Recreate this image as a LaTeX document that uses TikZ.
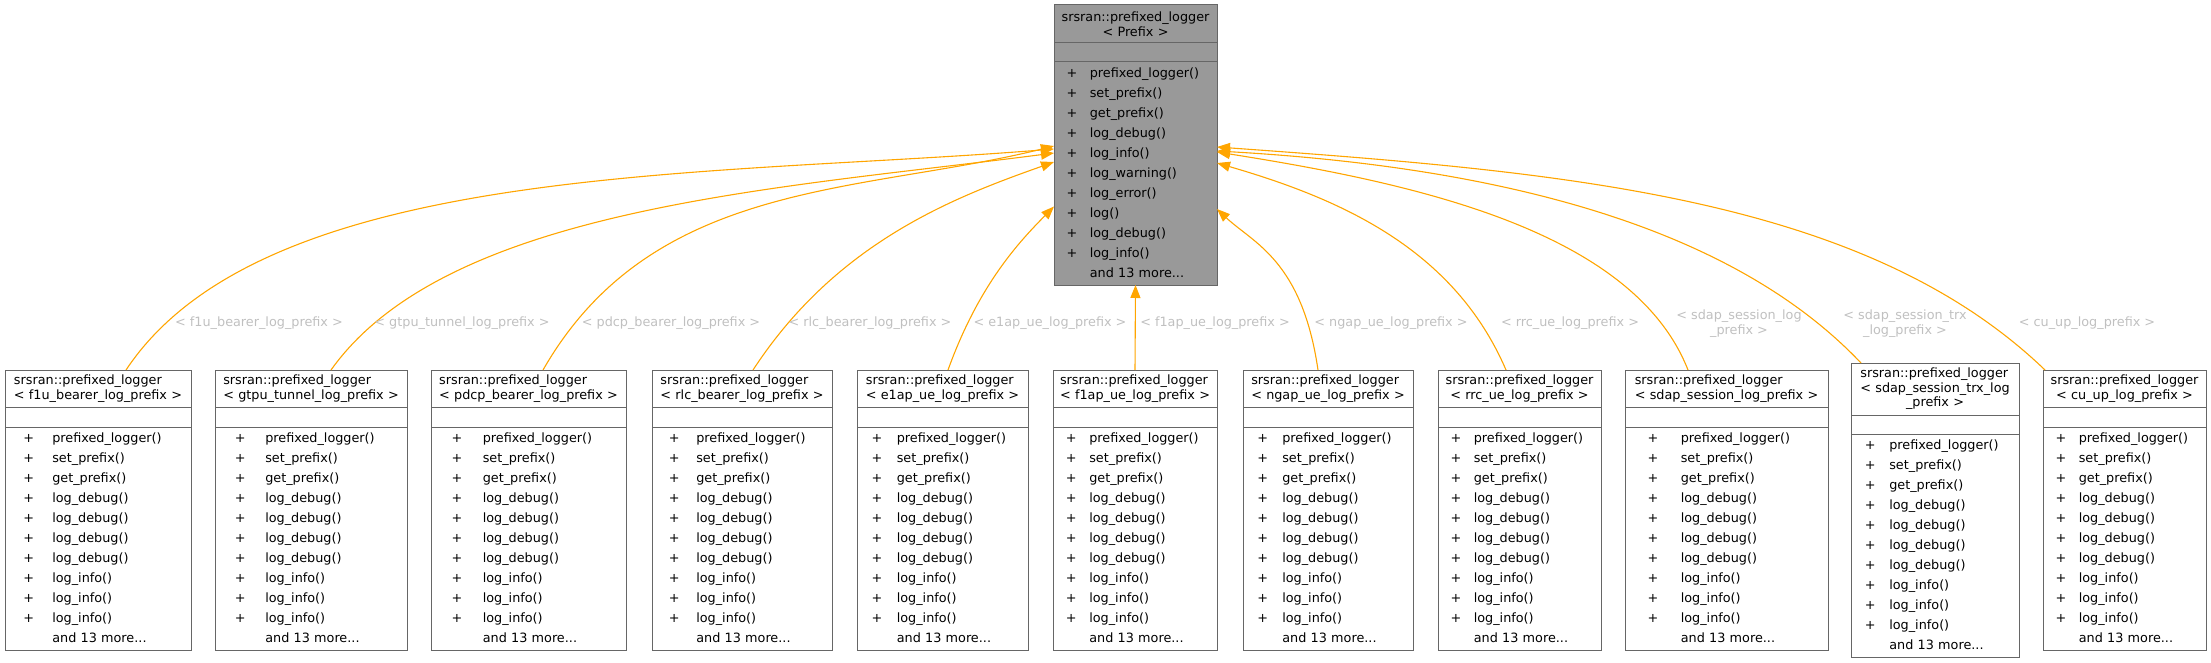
\documentclass[tikz,border=0pt]{standalone}
\usepackage{fontspec}
\usepackage{array}
\setmainfont{DejaVu Sans}
\usetikzlibrary{arrows.meta, positioning}

\definecolor{boxborder}{HTML}{666666}
\definecolor{basegray}{HTML}{999999}
\definecolor{labelgray}{HTML}{C0C0C0}
\definecolor{edgeorange}{HTML}{FFA500}

% header with the first line flush left under the longer second line
\newlength{\headwd}
\newcommand{\leftpair}[2]{\settowidth{\headwd}{#2}\makebox[\headwd][l]{#1}\\#2}

% member compartments
\newcommand{\memberrows}[2]{%
  \pgfmathsetlengthmacro{\pluscol}{35.8pt+(#1-163pt)/2}%
  \begin{tabular}{@{}>{\centering\arraybackslash}p{\pluscol}@{}l@{}}#2\end{tabular}}
\newcommand{\basemembers}{%
  + & prefixed\_logger()\\
  + & set\_prefix()\\
  + & get\_prefix()\\
  + & log\_debug()\\
  + & log\_info()\\
  + & log\_warning()\\
  + & log\_error()\\
  + & log()\\
  + & log\_debug()\\
  + & log\_info()\\
    & and 13 more...}
\newcommand{\childmembers}{%
  + & prefixed\_logger()\\
  + & set\_prefix()\\
  + & get\_prefix()\\
  + & log\_debug()\\
  + & log\_debug()\\
  + & log\_debug()\\
  + & log\_debug()\\
  + & log\_info()\\
  + & log\_info()\\
  + & log\_info()\\
    & and 13 more...}

\begin{document}
\begin{tikzpicture}[x=1pt, y=-1pt,
    cls/.style={rectangle, draw=boxborder, line width=1pt, fill=white, inner sep=0pt, outer sep=0pt, text width=#1},
    head/.style={cls=#1, minimum height=37pt, align=center, font=\fontsize{12.8}{14.5}\selectfont},
    blank/.style={cls=#1, minimum height=20pt},
    body/.style={cls=#1, minimum height=223pt, align=left, font=\fontsize{12.8}{20}\selectfont},
    base/.style={fill=basegray},
    inherit/.style={-{Triangle[length=13pt, width=10pt]}, draw=edgeorange, line width=1.1pt},
    lbl/.style={text=labelgray, align=center, inner sep=0pt, font=\fontsize{12.8}{15}\selectfont}
]
    \useasboundingbox (0,0) rectangle (2211,663);

    % Base class
    \node[head=163pt, base, minimum height=38pt] (prefixH) at (1135.5,24) {srsran::prefixed\_logger\\< Prefix >};
    \node[blank=163pt, base, minimum height=19pt, below=0pt of prefixH] (prefixB) {};
    \node[body=163pt, base, below=0pt of prefixB] (prefix) {\memberrows{163pt}{\basemembers}};

    % Derived classes
    \node[head=186pt] (f1uH) at (98,388.5) {\leftpair{srsran::prefixed\_logger}{< f1u\_bearer\_log\_prefix >}};
    \node[blank=186pt, below=0pt of f1uH] (f1uB) {};
    \node[body=186pt, below=0pt of f1uB] (f1u) {\memberrows{186pt}{\childmembers}};

    \node[head=192pt] (gtpuH) at (311,388.5) {\leftpair{srsran::prefixed\_logger}{< gtpu\_tunnel\_log\_prefix >}};
    \node[blank=192pt, below=0pt of gtpuH] (gtpuB) {};
    \node[body=192pt, below=0pt of gtpuB] (gtpu) {\memberrows{192pt}{\childmembers}};

    \node[head=195pt] (pdcpH) at (528.5,388.5) {\leftpair{srsran::prefixed\_logger}{< pdcp\_bearer\_log\_prefix >}};
    \node[blank=195pt, below=0pt of pdcpH] (pdcpB) {};
    \node[body=195pt, below=0pt of pdcpB] (pdcp) {\memberrows{195pt}{\childmembers}};

    \node[head=180pt] (rlcH) at (742,388.5) {\leftpair{srsran::prefixed\_logger}{< rlc\_bearer\_log\_prefix >}};
    \node[blank=180pt, below=0pt of rlcH] (rlcB) {};
    \node[body=180pt, below=0pt of rlcB] (rlc) {\memberrows{180pt}{\childmembers}};

    \node[head=171pt] (e1apH) at (942.5,388.5) {\leftpair{srsran::prefixed\_logger}{< e1ap\_ue\_log\_prefix >}};
    \node[blank=171pt, below=0pt of e1apH] (e1apB) {};
    \node[body=171pt, below=0pt of e1apB] (e1ap) {\memberrows{171pt}{\childmembers}};

    \node[head=164pt] (f1apH) at (1135,388.5) {\leftpair{srsran::prefixed\_logger}{< f1ap\_ue\_log\_prefix >}};
    \node[blank=164pt, below=0pt of f1apH] (f1apB) {};
    \node[body=164pt, below=0pt of f1apB] (f1ap) {\memberrows{164pt}{\childmembers}};

    \node[head=170pt] (ngapH) at (1328,388.5) {\leftpair{srsran::prefixed\_logger}{< ngap\_ue\_log\_prefix >}};
    \node[blank=170pt, below=0pt of ngapH] (ngapB) {};
    \node[body=170pt, below=0pt of ngapB] (ngap) {\memberrows{170pt}{\childmembers}};

    \node[head=163pt] (rrcH) at (1519.5,388.5) {srsran::prefixed\_logger\\< rrc\_ue\_log\_prefix >};
    \node[blank=163pt, below=0pt of rrcH] (rrcB) {};
    \node[body=163pt, below=0pt of rrcB] (rrc) {\memberrows{163pt}{\childmembers}};

    \node[head=203pt] (sdapH) at (1726.5,388.5) {\leftpair{srsran::prefixed\_logger}{< sdap\_session\_log\_prefix >}};
    \node[blank=203pt, below=0pt of sdapH] (sdapB) {};
    \node[body=203pt, below=0pt of sdapB] (sdap) {\memberrows{203pt}{\childmembers}};

    \node[head=168pt, minimum height=52pt] (trxH) at (1935,389) {\leftpair{srsran::prefixed\_logger}{< sdap\_session\_trx\_log}\\\_prefix >};
    \node[blank=168pt, minimum height=19pt, below=0pt of trxH] (trxB) {};
    \node[body=168pt, below=0pt of trxB] (trx) {\memberrows{168pt}{\childmembers}};

    \node[head=163pt] (cuupH) at (2124.5,388.5) {srsran::prefixed\_logger\\< cu\_up\_log\_prefix >};
    \node[blank=163pt, below=0pt of cuupH] (cuupB) {};
    \node[body=163pt, below=0pt of cuupB] (cuup) {\memberrows{163pt}{\childmembers}};

    % Inheritance edges
    \draw[inherit] ([xshift=28pt]f1uH.north) .. controls (264,162) and (706,177) .. ([yshift=24.5pt]prefix.west);
    \draw[inherit] ([xshift=20pt]gtpuH.north) .. controls (447,207) and (777,189) .. ([yshift=20.5pt]prefix.west);
    \draw[inherit] ([xshift=14.5pt]pdcpH.north) .. controls (653,178) and (861,194) .. ([yshift=27.5pt]prefix.west);
    \draw[inherit] ([xshift=11pt]rlcH.north) .. controls (836,243) and (952,198) .. ([yshift=11.5pt]prefix.west);
    \draw[inherit] ([xshift=5.5pt]e1apH.north) .. controls (979,284) and (1020,241) .. ([yshift=-33pt]prefix.west);
    \draw[inherit] (f1apH.north) -- (prefix.south);
    \draw[inherit] ([xshift=-10pt]ngapH.north) .. controls (1302,260) and (1253,243) .. ([yshift=-35.5pt]prefix.east);
    \draw[inherit] ([xshift=-13.5pt]rrcH.north) .. controls (1454,249) and (1341,199) .. ([yshift=10.5pt]prefix.east);
    \draw[inherit] ([xshift=-38.5pt]sdapH.north) .. controls (1633,230) and (1413,183) .. ([yshift=21.5pt]prefix.east);
    \draw[inherit] ([xshift=-74pt]trxH.north) .. controls (1737,232) and (1515,168) .. ([yshift=22.5pt]prefix.east);
    \draw[inherit] ([xshift=-79.5pt]cuupH.north) .. controls (1865,197) and (1565,172) .. ([yshift=26.5pt]prefix.east);

    % Edge labels
    \node[lbl] (f1uL) at (259,323) {< f1u\_bearer\_log\_prefix >};
    \node[lbl] (gtpuL) at (462,323) {< gtpu\_tunnel\_log\_prefix >};
    \node[lbl] (pdcpL) at (671,323) {< pdcp\_bearer\_log\_prefix >};
    \node[lbl] (rlcL) at (870,323) {< rlc\_bearer\_log\_prefix >};
    \node[lbl] (e1apL) at (1050,323) {< e1ap\_ue\_log\_prefix >};
    \node[lbl] (f1apL) at (1215,323) {< f1ap\_ue\_log\_prefix >};
    \node[lbl] (ngapL) at (1391,323) {< ngap\_ue\_log\_prefix >};
    \node[lbl] (rrcL) at (1570,323) {< rrc\_ue\_log\_prefix >};
    \node[lbl] (sdapL) at (1739,323.5) {< sdap\_session\_log\\\_prefix >};
    \node[lbl] (trxL) at (1905,323.5) {< sdap\_session\_trx\\\_log\_prefix >};
    \node[lbl] (cuupL) at (2087,323) {< cu\_up\_log\_prefix >};

\end{tikzpicture}
\end{document}
